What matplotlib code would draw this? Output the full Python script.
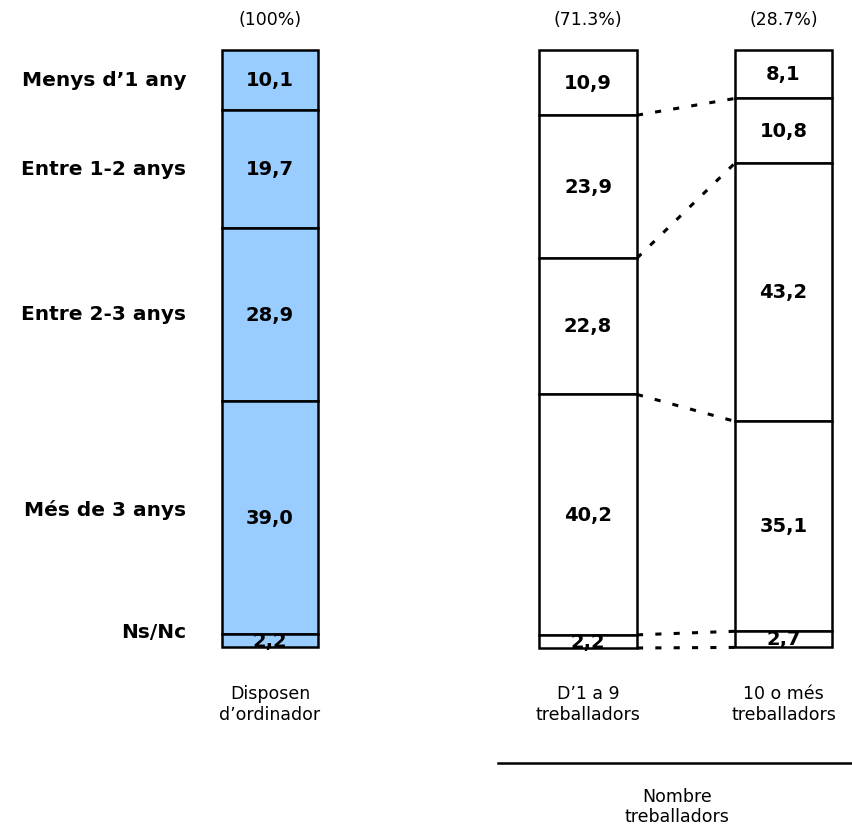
import numpy as np
import matplotlib.pyplot as plt

# Dades
categories = ["Menys d\u20191 any", "Entre 1-2 anys", "Entre 2-3 anys", "Més de 3 anys", "Ns/Nc"]
total = [10.1, 19.7, 28.9, 39.0, 2.2]
petites = [10.9, 23.9, 22.8, 40.2, 2.2]
grans = [8.1, 10.8, 43.2, 35.1, 2.7]
series = [total, petites, grans]
shares = ["(100%)", "(71.3%)", "(28.7%)"]
col_labels = ["Disposen\nd\u2019ordinador", "D\u20191 a 9\ntreballadors", "10 o més\ntreballadors"]
group_label = "Nombre\ntreballadors"

# Posicions (en píxels horitzontals) i colors
centers = [270, 588, 783.5]
widths = [96, 98, 97]
fills = ["#99CCFF", "white", "white"]

fig = plt.figure(figsize=(8.52, 8.33), dpi=100)
ax = fig.add_axes([0, 0, 1, 1])
ax.set_xlim(0, 852)
# 0% a y=50px, 100% a y=648px
ppu = 598 / 100.0
ax.set_ylim((833 - 50) / ppu, -50 / ppu)
ax.axis("off")

for vals, xc, w, fc, sh, cl in zip(series, centers, widths, fills, shares, col_labels):
    bottoms = np.concatenate([[0], np.cumsum(vals)[:-1]])
    bars = ax.bar([xc] * len(vals), vals, width=w, bottom=bottoms,
                  color=fc, edgecolor="black", linewidth=1.8, zorder=2)
    for rect, v, b in zip(bars, vals, bottoms):
        t = ax.text(xc, b + v / 2 + 0.1, f"{v:.1f}".replace(".", ","),
                    ha="center", va="center", fontsize=14, fontweight="bold", zorder=3)
        t.set_clip_path(rect)
    ax.text(xc, -5.0, sh, ha="center", va="center", fontsize=12.5)
    ax.text(xc, 109.5, cl, ha="center", va="center", fontsize=12.5, linespacing=1.2)

# Etiquetes de categoria
cum = np.cumsum(total)
mids = cum - np.array(total) / 2
offs = [0, 0, 0, -1.2, -1.4]
for cat, m, o in zip(categories, mids, offs):
    ax.text(186, m + o, cat, ha="right", va="center", fontsize=14.5, fontweight="bold")

# Línies de connexió puntejades
cp = np.cumsum(petites)
cg = np.cumsum(grans)
x_r = centers[1] + widths[1] / 2
x_l = centers[2] - widths[2] / 2
for a, b in zip(cp, cg):
    ax.plot([x_r, x_l], [a, b], linestyle=(0, (2, 4)), color="black", lw=2.2, zorder=1)

# Agrupació inferior
ax.plot([498, 852], [119.2, 119.2], color="black", lw=1.8)
ax.text(677, 126.6, group_label, ha="center", va="center", fontsize=12.5, linespacing=1.2)

fig.savefig("out.png", dpi=100)
